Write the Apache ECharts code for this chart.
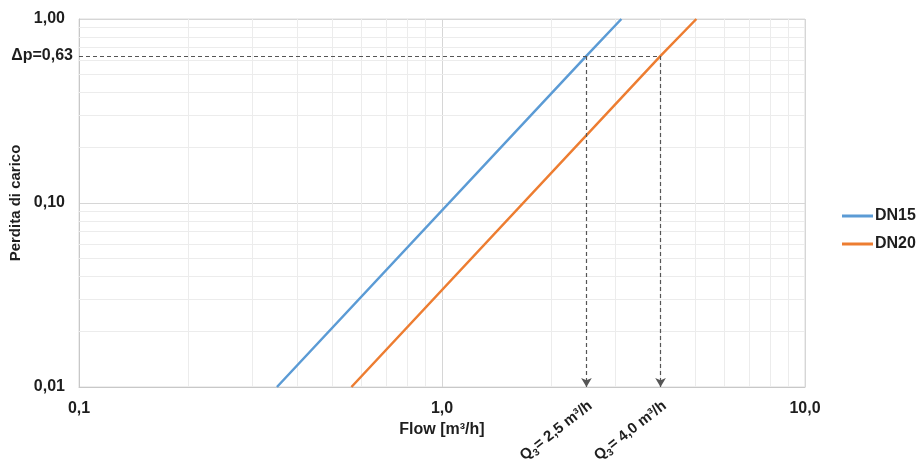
<!DOCTYPE html>
<html>
<head>
<meta charset="utf-8">
<script src="https://cdn.jsdelivr.net/npm/echarts@6/dist/echarts.min.js"></script>
<style>
html,body{margin:0;padding:0;background:#fff;}
#c{width:922px;height:466px;}
</style>
</head>
<body>
<div id="c"></div>
<script>
// ---- data ----
const seriesNames = ['DN15', 'DN20'];
const dn15 = [[0.351, 0.01], [2.5, 0.63], [3.12, 1.0]];
const dn20 = [[0.563, 0.01], [4.0, 0.63], [5.02, 1.0]];
const dpValue = 0.63;
const dpLabel = 'Δp=0,63';
const qValues = [2.5, 4.0];
const qTexts = ['2,5', '4,0'];
const xTickLabels = {0.1: '0,1', 1: '1,0', 10: '10,0'};
const yTickLabels = {0.01: '0,01', 0.1: '0,10', 1: '1,00'};
const xMinor = [0.2,0.3,0.4,0.5,0.6,0.7,0.8,0.9,2,3,4,5,6,7,8,9];
const yMinor = [0.02,0.03,0.04,0.05,0.06,0.07,0.08,0.09,0.2,0.3,0.4,0.5,0.6,0.7,0.8,0.9];

const FONT = '"Liberation Sans", Arial, Helvetica, sans-serif';
const TXT = '#1e1e1e';
const chart = echarts.init(document.getElementById('c'));

function fmt(map, v) {
  for (const k in map) { if (Math.abs(Math.log10(+k) - Math.log10(v)) < 1e-6) return map[k]; }
  return '';
}

const minorLines = [];
xMinor.forEach(v => minorLines.push({xAxis: v}));
yMinor.forEach(v => minorLines.push({yAxis: v}));

const dashStyle = {color: '#555', type: [4, 3], width: 1.2};
const guideLines = [
  [{coord: [0.1, dpValue], symbol: 'none',
    label: {show: true, position: 'start', formatter: dpLabel, distance: 6,
            fontFamily: FONT, fontWeight: 'bold', fontSize: 16, color: TXT}},
   {coord: [qValues[1], dpValue], symbol: 'none'}],
  [{coord: [qValues[0], dpValue], symbol: 'none'}, {coord: [qValues[0], 0.01], symbol: 'arrow', symbolSize: [8, 9]}],
  [{coord: [qValues[1], dpValue], symbol: 'none'}, {coord: [qValues[1], 0.01], symbol: 'arrow', symbolSize: [8, 9]}]
];

const option = {
  animation: false,
  textStyle: {fontFamily: FONT},
  grid: {left: 79, right: 117, top: 19, bottom: 79, containLabel: false, outerBoundsMode: 'none',
         show: true, borderColor: '#dcdcdc', borderWidth: 1, backgroundColor: 'transparent'},
  legend: {
    orient: 'vertical', left: 842, top: 208, padding: 0, itemWidth: 31, itemHeight: 3, itemGap: 12,
    icon: 'rect',
    data: seriesNames,
    textStyle: {fontFamily: FONT, fontWeight: 'bold', fontSize: 16, color: TXT, padding: [0, 0, 0, -3]}
  },
  xAxis: {
    type: 'log', logBase: 10, min: 0.1, max: 10,
    name: 'Flow [m³/h]', nameLocation: 'middle', nameGap: 28,
    nameTextStyle: {fontFamily: FONT, fontWeight: 'bold', fontSize: 16, color: TXT},
    axisLine: {show: true, lineStyle: {color: '#c8c8c8', width: 1}},
    axisTick: {show: false},
    axisLabel: {margin: 14, fontFamily: FONT, fontWeight: 'bold', fontSize: 16, color: TXT,
                formatter: v => fmt(xTickLabels, v)},
    splitLine: {show: true, lineStyle: {color: '#d6d6d6', width: 1}}
  },
  yAxis: {
    type: 'log', logBase: 10, min: 0.01, max: 1,
    name: 'Perdita di carico', nameLocation: 'middle', nameGap: 51, nameRotate: 90,
    nameTextStyle: {fontFamily: FONT, fontWeight: 'bold', fontSize: 15, color: TXT},
    axisLine: {show: true, lineStyle: {color: '#c8c8c8', width: 1}},
    axisTick: {show: false},
    axisLabel: {margin: 14, fontFamily: FONT, fontWeight: 'bold', fontSize: 16, color: TXT,
                formatter: v => fmt(yTickLabels, v)},
    splitLine: {show: true, lineStyle: {color: '#d6d6d6', width: 1}}
  },
  series: [
    {
      name: seriesNames[0], type: 'line', data: dn15, symbol: 'none', showSymbol: false,
      lineStyle: {color: '#5b9bd5', width: 2.5}, itemStyle: {color: '#5b9bd5'}, z: 5,
      markLine: {silent: true, symbol: 'none', label: {show: false}, animation: false,
                 lineStyle: {color: '#ececec', width: 1, type: 'solid'}, emphasis: {disabled: true},
                 data: minorLines, z: 1}
    },
    {
      name: seriesNames[1], type: 'line', data: dn20, symbol: 'none', showSymbol: false,
      lineStyle: {color: '#ed7d31', width: 2.5}, itemStyle: {color: '#ed7d31'}, z: 5,
      markLine: {silent: true, symbol: 'none', label: {show: false}, animation: false,
                 lineStyle: dashStyle, emphasis: {disabled: true}, data: guideLines, z: 6}
    }
  ]
};
chart.setOption(option);

const graphics = qValues.map((q, i) => {
  const p = chart.convertToPixel({gridIndex: 0}, [q, 0.01]);
  return {
    type: 'text', x: p[0] + 4, y: p[1] + 17, rotation: 38 * Math.PI / 180,
    style: {
      text: '{q|Q}{s|3}{t|= ' + qTexts[i] + ' m³/h}',
      align: 'right', verticalAlign: 'middle',
      rich: {
        q: {fontFamily: FONT, fontWeight: 'bold', fontSize: 15, lineHeight: 20, fill: TXT, verticalAlign: 'middle'},
        s: {fontFamily: FONT, fontWeight: 'bold', fontSize: 10, lineHeight: 10, fill: TXT, verticalAlign: 'bottom'},
        t: {fontFamily: FONT, fontWeight: 'bold', fontSize: 15, lineHeight: 20, fill: TXT, verticalAlign: 'middle'}
      }
    }
  };
});
chart.setOption({graphic: graphics});
</script>
</body>
</html>
